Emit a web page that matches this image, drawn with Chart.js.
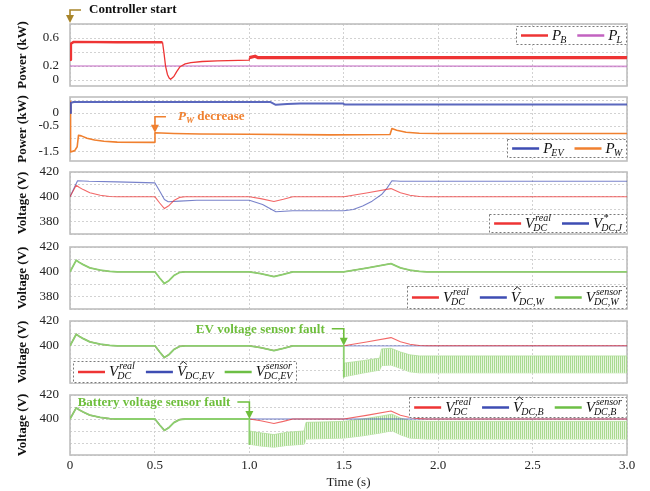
<!DOCTYPE html>
<html>
<head>
<meta charset="utf-8">
<script src="https://cdn.jsdelivr.net/npm/chart.js@4.4.1/dist/chart.umd.min.js"></script>
<style>
  html, body { margin: 0; padding: 0; background: #fff; }
  #wrap { position: relative; width: 650px; height: 491px; overflow: hidden; }
  #wrap canvas { position: absolute; left: 0; top: 0; }
</style>
</head>
<body>
<div id="wrap">
  <canvas id="p1" width="650" height="491"></canvas>
  <canvas id="p2" width="650" height="491"></canvas>
  <canvas id="p3" width="650" height="491"></canvas>
  <canvas id="p4" width="650" height="491"></canvas>
  <canvas id="p5" width="650" height="491"></canvas>
  <canvas id="p6" width="650" height="491"></canvas>
</div>
<script>
// ---------------- data ----------------
// time axis (s)
const X0 = 0.05, X1 = 3.0;
const timeTicks = [0.05, 0.5, 1.0, 1.5, 2.0, 2.5, 3.0];
const timeTickLabels = ['0', '0.5', '1.0', '1.5', '2.0', '2.5', '3.0'];

// y ticks
const pbTicks = [0, 0.2, 0.4, 0.6, 0.8];
const pbTickLabels = ['0', '0.2', '', '0.6', ''];
const pwTicks = [-1.5, -1.0, -0.5, 0, 0.5];
const pwTickLabels = ['-1.5', '', '-0.5', '0', ''];
const vTicks = [370, 380, 390, 400, 410, 420];
const vTickLabels = ['', '380', '', '400', '', '420'];
const vTickLabelsShort = ['', '', '', '400', '', '420'];

// battery power P_B and load power P_L (kW)
const tPB = [0.05, 0.055, 0.07, 0.3, 0.54, 0.548, 0.556, 0.566, 0.575, 0.583, 0.6, 0.615, 0.633, 0.66, 0.69, 0.75, 0.83, 0.999, 1.0, 1.03, 1.045, 1.5, 2.0, 2.5, 3.0];
const pB  = [0.29, 0.52, 0.545, 0.54, 0.54, 0.38, 0.2, 0.08, 0.03, 0.01, 0.05, 0.12, 0.19, 0.23, 0.25, 0.265, 0.275, 0.285, 0.32, 0.34, 0.32, 0.32, 0.32, 0.32, 0.32];
const tPL = [0.05, 1.0, 1.6, 3.0];
const pL  = [0.2, 0.2, 0.2, 0.195];

// EV power P_EV and wind power P_W (kW)
const tEV = [0.05, 0.055, 0.07, 1.11, 1.14, 1.2, 1.27, 1.495, 1.505, 3.0];
const pEV = [0.0, 0.4, 0.43, 0.43, 0.32, 0.35, 0.37, 0.37, 0.33, 0.33];
const tW = [0.05, 0.053, 0.075, 0.088, 0.095, 0.11, 0.14, 0.18, 0.23, 0.3, 0.497, 0.5, 0.6, 0.74, 1.0, 1.43, 1.745, 1.755, 1.78, 1.83, 1.9, 2.0, 3.0];
const pW = [0.45, -1.5, -1.45, -1.3, -0.86, -0.88, -0.97, -1.04, -1.09, -1.12, -1.13, -0.76, -0.79, -0.81, -0.82, -0.84, -0.83, -0.6, -0.66, -0.74, -0.78, -0.79, -0.79];

// DC bus voltage (V)
const tReal = [0.05, 0.083, 0.1, 0.12, 0.155, 0.21, 0.26, 0.3, 0.5, 0.525, 0.55, 0.575, 0.6, 0.63, 0.66, 1.0, 1.06, 1.13, 1.18, 1.23, 1.5, 1.62, 1.75, 1.8, 1.85, 1.9, 1.94, 3.0];
const vReal = [400, 409.3, 407.5, 405.8, 403.2, 401.3, 400.3, 400, 400, 395, 390.5, 393, 397, 399.5, 400, 400, 398.5, 396.2, 398, 400, 400, 403, 406.6, 403.2, 401.3, 400.3, 400, 400];

// voltage reference V*_DC,J
const tJ = [0.05, 0.09, 0.15, 0.3, 0.5, 0.53, 0.55, 0.57, 0.63, 0.72, 1.0, 1.07, 1.14, 1.23, 1.5, 1.55, 1.6, 1.65, 1.7, 1.73, 1.755, 1.8, 3.0];
const vJ = [400, 413, 412.5, 412, 411.2, 403.2, 397.8, 396, 396.5, 397.2, 397.2, 393.8, 388, 388.8, 388.8, 389.8, 392.5, 396.5, 401.8, 407.2, 413, 412.6, 412.5];

// EV voltage sensor fault at 1.5 s: estimate holds, sensor reading drops into a ripple band
const evFaultT = 1.5;
const evHatHold = 400;
const evSensorDrop = 375;
const tBandEV = [1.5, 1.55, 1.6, 1.69, 1.7, 1.75, 1.8, 1.85, 1.9, 2.0, 3.0];
const upEV = [386, 387, 388, 390, 397.5, 398, 395, 392.7, 391.8, 391.8, 391.8];
const loEV = [375, 376.5, 378, 380.4, 384, 384.5, 381.8, 379, 378.2, 378.2, 378.2];

// battery voltage sensor fault at 1.0 s
const bFaultT = 1.0;
const bHatHold = 400;
const bSensorDrop = 379;
const tBandB = [1.0, 1.06, 1.13, 1.2, 1.29, 1.3, 1.5, 1.6, 1.7, 1.755, 1.8, 1.85, 1.94, 3.0];
const upB = [390, 388.5, 387, 389, 390, 397.2, 398, 400, 402.5, 404, 400.8, 398.6, 398, 398];
const loB = [379, 377.5, 376.5, 378, 379, 383.3, 384.1, 386, 388.5, 390.2, 386.9, 384.1, 383.3, 383.3];

// ---------------- helpers ----------------
const FONT = 'Liberation Serif';
Chart.defaults.font.family = FONT;

const RED = '#ee3434', BLUE = '#3e4db3', GREEN = '#6dbf45', ORANGE = '#f0802f', PINK = '#c262c0';
const GREEN_LINE = '#8ccf6e';
const BAND_EDGE = '#b2df9c';
const GRID = '#d2d2d2';
const GOLD = '#a8852a';
const GREEN_TXT = '#6ebe3c';

const pts = (ts, vs) => ts.map((t, i) => ({ x: t, y: vs[i] }));
const upTo = (ts, vs, t) => pts(ts, vs).filter(p => p.x <= t);

function stripes(canvasId) {
  const c = document.createElement('canvas');
  c.width = 2; c.height = 1;
  const g = c.getContext('2d');
  g.fillStyle = '#e6f5de'; g.fillRect(0, 0, 2, 1);
  g.fillStyle = '#a9da90'; g.fillRect(0, 0, 1, 1);
  return document.getElementById(canvasId).getContext('2d').createPattern(c, 'repeat');
}

// plot frame
const framePlugin = {
  id: 'frame',
  beforeDatasetsDraw(chart) {
    const { ctx, chartArea: a } = chart;
    ctx.save();
    ctx.strokeStyle = '#bfbfbf';
    ctx.lineWidth = 1.6;
    ctx.strokeRect(a.left, a.top, a.right - a.left, a.bottom - a.top);
    ctx.restore();
  }
};

// math-style legend labels: base letter with optional hat, superscript and subscript
function mathWidth(ctx, m) {
  ctx.font = `italic 15px ${FONT}`;
  const wb = ctx.measureText(m.base).width;
  ctx.font = `italic 10px ${FONT}`;
  const ws = m.sup ? ctx.measureText(m.sup).width : 0;
  const wd = m.sub ? ctx.measureText(m.sub).width : 0;
  return wb + Math.max(ws + 1, wd - 1);
}
function drawMath(ctx, m, x, cy) {
  ctx.fillStyle = '#111';
  ctx.textAlign = 'left';
  ctx.textBaseline = 'alphabetic';
  const base = cy + 4;
  ctx.font = `italic 15px ${FONT}`;
  ctx.fillText(m.base, x, base);
  const wb = ctx.measureText(m.base).width;
  if (m.hat) {
    ctx.strokeStyle = '#111';
    ctx.lineWidth = 0.9;
    ctx.beginPath();
    ctx.moveTo(x + 3, base - 11.5);
    ctx.lineTo(x + 6.5, base - 14.5);
    ctx.lineTo(x + 10, base - 11.5);
    ctx.stroke();
  }
  ctx.font = `italic 10px ${FONT}`;
  if (m.sup) ctx.fillText(m.sup, x + wb + 1, base - 7);
  if (m.sub) ctx.fillText(m.sub, x + wb - 1, base + 3);
}
const mathLegend = {
  id: 'mathLegend',
  afterDatasetsDraw(chart, args, opts) {
    if (!opts || !opts.corner) return;
    const ctx = chart.ctx, a = chart.chartArea;
    const items = chart.data.datasets.filter(d => d.math).sort((p, q) => p.legendRank - q.legendRank);
    const SAMPLE = 27, GAP = 4, ITEM_GAP = 11, PADX = 5, H = opts.height || 20;
    const widths = items.map(d => mathWidth(ctx, d.math));
    const w = PADX * 2 + widths.reduce((s, x) => s + SAMPLE + GAP + x, 0) + ITEM_GAP * (items.length - 1);
    const left = opts.corner[1] === 'r' ? a.right - w + (opts.dx || 0) : a.left + (opts.dx || 0);
    const top = opts.corner[0] === 't' ? a.top + (opts.dy || 0) : a.bottom - H + (opts.dy || 0);
    ctx.save();
    ctx.fillStyle = '#fff';
    ctx.fillRect(left, top, w, H);
    ctx.setLineDash([2, 2]);
    ctx.strokeStyle = '#7a7a7a';
    ctx.lineWidth = 1;
    ctx.strokeRect(Math.round(left) + 0.5, Math.round(top) + 0.5, Math.round(w) - 1, H - 1);
    ctx.setLineDash([]);
    let x = left + PADX;
    const cy = top + H / 2;
    items.forEach((d, i) => {
      ctx.strokeStyle = d.legendColor || d.borderColor;
      ctx.lineWidth = 2.5;
      ctx.beginPath();
      ctx.moveTo(x, cy);
      ctx.lineTo(x + SAMPLE, cy);
      ctx.stroke();
      x += SAMPLE + GAP;
      drawMath(ctx, d.math, x, cy);
      x += widths[i] + ITEM_GAP;
    });
    ctx.restore();
  }
};

// callouts: elbow arrow pointing at an event, with a bold caption
function partFont(p, size) {
  return `${p.i ? 'italic ' : ''}bold ${p.sub ? Math.round(size * 0.7) : size}px ${FONT}`;
}
function richWidth(ctx, parts, size) {
  let w = 0;
  for (const p of parts) { ctx.font = partFont(p, size); w += ctx.measureText(p.t).width; }
  return w;
}
const callouts = {
  id: 'callouts',
  afterDraw(chart, args, opts) {
    const items = (opts && opts.items) || [];
    const ctx = chart.ctx, a = chart.chartArea;
    items.forEach(c => {
      const tipX = chart.scales.x.getPixelForValue(c.x);
      const tipY = c.y == null ? a.top - 1 : chart.scales.y.getPixelForValue(c.y);
      const elbowY = tipY - c.rise;
      const dir = c.side === 'right' ? 1 : -1;
      const armX = tipX + dir * c.arm;
      const HL = 8, HW = 8;
      ctx.save();
      ctx.strokeStyle = c.color;
      ctx.fillStyle = c.color;
      ctx.lineWidth = 1.6;
      ctx.beginPath();
      ctx.moveTo(armX, elbowY);
      ctx.lineTo(tipX, elbowY);
      ctx.lineTo(tipX, tipY - HL + 1);
      ctx.stroke();
      ctx.beginPath();
      ctx.moveTo(tipX - HW / 2, tipY - HL);
      ctx.lineTo(tipX + HW / 2, tipY - HL);
      ctx.lineTo(tipX, tipY);
      ctx.closePath();
      ctx.fill();
      const size = 13;
      const tw = richWidth(ctx, c.parts, size);
      let x = dir > 0 ? armX + c.gap : armX - c.gap - tw;
      const cy = elbowY + (c.dy || 0);
      ctx.fillStyle = c.textColor || c.color;
      ctx.textAlign = 'left';
      ctx.textBaseline = 'middle';
      for (const p of c.parts) {
        ctx.font = partFont(p, size);
        ctx.fillText(p.t, x, cy + (p.sub ? 4 : 0));
        x += ctx.measureText(p.t).width;
      }
      ctx.restore();
    });
  }
};

function panel(id, o) {
  const showX = !!o.showX;
  return new Chart(document.getElementById(id), {
    type: 'line',
    data: { datasets: o.datasets },
    options: {
      responsive: false,
      animation: false,
      devicePixelRatio: 1,
      events: [],
      layout: { padding: { top: o.top, bottom: showX ? 0 : 491 - o.bottom, left: 0, right: 23 } },
      elements: { point: { radius: 0 }, line: { tension: 0, borderJoinStyle: 'round' } },
      plugins: {
        legend: { display: false },
        tooltip: { enabled: false },
        mathLegend: o.legend,
        callouts: { items: o.callouts || [] }
      },
      scales: {
        x: {
          type: 'linear', min: X0, max: X1,
          afterBuildTicks: s => { s.ticks = timeTicks.map(v => ({ value: v })); },
          afterFit: s => { s.height = showX ? 36 : 0; },
          grid: { color: GRID, lineWidth: 1, drawTicks: false },
          border: { display: false, dash: [2, 2] },
          ticks: { display: showX, padding: 3, maxRotation: 0, autoSkip: false, color: '#222',
                   font: { size: 13 }, callback: (v, i) => timeTickLabels[i] },
          title: { display: showX, text: 'Time (s)', color: '#222', font: { size: 13 },
                   padding: { top: 0, bottom: 1 } }
        },
        y: {
          type: 'linear', min: o.min, max: o.max,
          afterBuildTicks: s => { s.ticks = o.ticks.map(v => ({ value: v })); },
          afterFit: s => { s.width = 70; },
          grid: { color: GRID, lineWidth: 1, drawTicks: false },
          border: { display: false, dash: [2, 2] },
          ticks: { padding: 11, autoSkip: false, color: '#222', font: { size: 13 },
                   callback: (v, i) => o.labels[i] },
          title: { display: true, text: o.yTitle, color: '#111', font: { size: 13, weight: 'bold' },
                   padding: { top: 15, bottom: 0 } }
        }
      }
    },
    plugins: [framePlugin, mathLegend, callouts]
  });
}

const realLine = () => ({
  data: pts(tReal, vReal), borderColor: 'rgba(238,52,52,0.75)', borderWidth: 1.1,
  legendColor: RED, legendRank: 0, math: { base: 'V', sup: 'real', sub: 'DC' }
});

// ---------------- panels ----------------
panel('p1', {
  top: 24, bottom: 86, min: -0.085, max: 0.8, ticks: pbTicks, labels: pbTickLabels, yTitle: 'Power (kW)',
  legend: { corner: 'tr', dx: 0, dy: 2, height: 19 },
  callouts: [{ x: X0, y: null, rise: 13, side: 'right', arm: 11, gap: 8, color: GOLD, textColor: '#111',
               parts: [{ t: 'Controller start' }] }],
  datasets: [
    { data: pts(tPB, pB), borderColor: RED, borderWidth: 2.4,
      segment: { borderWidth: c => c.p0.parsed.x >= 1.0 ? 3.2 : (c.p0.parsed.x >= 0.54 ? 1.3 : 2.4) },
      legendRank: 0, math: { base: 'P', sub: 'B' } },
    { data: pts(tPL, pL), borderColor: 'rgba(194,98,192,0.65)', borderWidth: 1.6,
      legendColor: PINK, legendRank: 1, math: { base: 'P', sub: 'L' } }
  ]
});

panel('p2', {
  top: 97, bottom: 161, min: -1.85, max: 0.62, ticks: pwTicks, labels: pwTickLabels, yTitle: 'Power (kW)',
  legend: { corner: 'br', dx: 0, dy: -3, height: 19 },
  callouts: [{ x: 0.5, y: -0.76, rise: 16, side: 'right', arm: 11, gap: 12, color: ORANGE,
               parts: [{ t: 'P', i: true }, { t: 'W', i: true, sub: true }, { t: ' decrease' }] }],
  datasets: [
    { data: pts(tEV, pEV), borderColor: 'rgba(62,77,179,0.85)', borderWidth: 2,
      legendColor: BLUE, legendRank: 0, math: { base: 'P', sub: 'EV' } },
    { data: pts(tW, pW), borderColor: ORANGE, borderWidth: 1.6,
      legendRank: 1, math: { base: 'P', sub: 'W' } }
  ]
});

panel('p3', {
  top: 172, bottom: 234, min: 370, max: 420, ticks: vTicks, labels: vTickLabels, yTitle: 'Voltage (V)',
  legend: { corner: 'br', dx: 0, dy: -1, height: 19 },
  datasets: [
    realLine(),
    { data: pts(tJ, vJ), borderColor: 'rgba(62,77,179,0.7)', borderWidth: 1.1,
      legendColor: BLUE, legendRank: 1, math: { base: 'V', sup: '*', sub: 'DC,J' } }
  ]
});

panel('p4', {
  top: 247, bottom: 309, min: 370, max: 420, ticks: vTicks, labels: vTickLabels, yTitle: 'Voltage (V)',
  legend: { corner: 'br', dx: 0, dy: 0, height: 23 },
  datasets: [
    { data: pts(tReal, vReal), borderColor: GREEN_LINE, borderWidth: 1.8,
      legendColor: GREEN, legendRank: 2, math: { base: 'V', sup: 'sensor', sub: 'DC,W' } },
    Object.assign(realLine(), { borderWidth: 0.8 }),
    { data: pts(tReal, vReal), borderColor: 'rgba(62,77,179,0.7)', borderWidth: 0.8,
      legendColor: BLUE, legendRank: 1, math: { base: 'V', hat: true, sub: 'DC,W' } }
  ]
});

panel('p5', {
  top: 321, bottom: 383, min: 370, max: 420, ticks: vTicks, labels: vTickLabelsShort, yTitle: 'Voltage (V)',
  legend: { corner: 'bl', dx: 3, dy: 0, height: 22 },
  callouts: [{ x: evFaultT, y: 400, rise: 17, side: 'left', arm: 12, gap: 7, dy: 1, color: GREEN_TXT,
               parts: [{ t: 'EV voltage sensor fault' }] }],
  datasets: [
    { data: upTo(tReal, vReal, evFaultT).concat([{ x: evFaultT, y: evSensorDrop }]),
      borderColor: GREEN_LINE, borderWidth: 1.8,
      legendColor: GREEN, legendRank: 2, math: { base: 'V', sup: 'sensor', sub: 'DC,EV' } },
    realLine(),
    { data: upTo(tReal, vReal, evFaultT).concat([{ x: X1, y: evHatHold }]),
      borderColor: 'rgba(62,77,179,0.5)', borderWidth: 1.3,
      legendColor: BLUE, legendRank: 1, math: { base: 'V', hat: true, sub: 'DC,EV' } },
    { data: pts(tBandEV, upEV), borderColor: BAND_EDGE, borderWidth: 0.8,
      fill: '+1', backgroundColor: stripes('p5') },
    { data: pts(tBandEV, loEV), borderColor: BAND_EDGE, borderWidth: 0.8 }
  ]
});

panel('p6', {
  top: 395, bottom: 455, showX: true, min: 370, max: 420, ticks: vTicks, labels: vTickLabelsShort, yTitle: 'Voltage (V)',
  legend: { corner: 'tr', dx: 0, dy: 2, height: 21 },
  callouts: [{ x: bFaultT, y: 400, rise: 17, side: 'left', arm: 12, gap: 7, dy: 1, color: GREEN_TXT,
               parts: [{ t: 'Battery voltage sensor fault' }] }],
  datasets: [
    { data: upTo(tReal, vReal, bFaultT).concat([{ x: bFaultT, y: bSensorDrop }]),
      borderColor: GREEN_LINE, borderWidth: 1.8,
      legendColor: GREEN, legendRank: 2, math: { base: 'V', sup: 'sensor', sub: 'DC,B' } },
    realLine(),
    { data: upTo(tReal, vReal, bFaultT).concat([{ x: X1, y: bHatHold }]),
      borderColor: 'rgba(62,77,179,0.5)', borderWidth: 1.3,
      legendColor: BLUE, legendRank: 1, math: { base: 'V', hat: true, sub: 'DC,B' } },
    { data: pts(tBandB, upB), borderColor: BAND_EDGE, borderWidth: 0.8,
      fill: '+1', backgroundColor: stripes('p6') },
    { data: pts(tBandB, loB), borderColor: BAND_EDGE, borderWidth: 0.8 }
  ]
});
</script>
</body>
</html>
